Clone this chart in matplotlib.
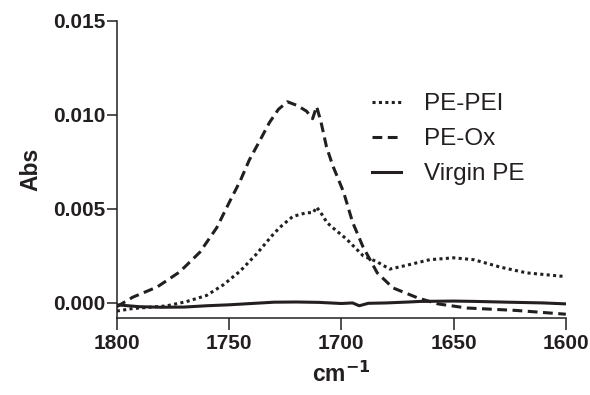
import numpy as np
import matplotlib
matplotlib.use("Agg")
import matplotlib.pyplot as plt

plt.rcParams['font.family'] = ['Liberation Sans', 'DejaVu Sans']

# PE-PEI (dotted)
pei_wn = [1800, 1793, 1778, 1769, 1760, 1752.6, 1745, 1737.8, 1730, 1726.6, 1721.6,
          1715.5, 1712.5, 1711, 1708, 1706.6, 1703.8, 1697.7, 1690.2, 1684.3, 1678.4,
          1671, 1660.6, 1650, 1641, 1629, 1617.5, 1600]
pei_abs = [-0.00043, -0.0003, -0.00016, 0.00007, 0.0004, 0.00096, 0.0017, 0.0026, 0.0037,
           0.0041, 0.0046, 0.0048, 0.0048, 0.0051, 0.0046, 0.0043, 0.0040, 0.0034, 0.0025,
           0.0022, 0.0018, 0.0020, 0.0023, 0.0024, 0.0023, 0.0019, 0.0016, 0.0014]

# PE-Ox (dashed)
ox_wn = [1800, 1793, 1782, 1772, 1763, 1755.5, 1749.7, 1745, 1741, 1736, 1732, 1728, 1724,
         1719.6, 1715.5, 1712.8, 1711, 1709, 1706.6, 1703.8, 1699, 1695, 1690.4, 1684, 1677,
         1666, 1657, 1644, 1622, 1600]
ox_abs = [-0.0002, 0.0003, 0.00085, 0.00165, 0.0027, 0.0040, 0.0054, 0.0065, 0.0076, 0.0087,
          0.0096, 0.0103, 0.0107, 0.0105, 0.0102, 0.0098, 0.01045, 0.0096, 0.0083, 0.0073,
          0.0059, 0.0043, 0.0030, 0.0016, 0.0008, 0.00027, -0.00005, -0.00027, -0.0004, -0.0006]

# Virgin PE (solid)
vpe_wn = [1800, 1790, 1780, 1770, 1760, 1750, 1740, 1730, 1720, 1710, 1700, 1695, 1692,
          1688, 1680, 1670, 1665, 1650, 1640, 1626, 1610, 1600]
vpe_abs = [-0.0001, -0.0002, -0.00023, -0.00022, -0.00015, -0.0001, -0.00003, 0.00004,
           0.00005, 0.00003, -0.00003, 0.0, -0.00015, -0.00002, 0.0, 0.00005, 0.00008,
           0.0001, 0.00008, 0.00004, 0.0, -0.00005]

col = '#231f20'

fig = plt.figure(figsize=(5.9, 3.95), dpi=100)
ax = fig.add_axes([0.198, 0.195, 0.761, 0.752])

ax.plot(pei_wn, pei_abs, color=col, lw=2.2, linestyle=(0, (1.0, 1.1)), label="PE-PEI")
ax.plot(ox_wn, ox_abs, color=col, lw=2.2, linestyle=(0, (3.2, 1.8)), label="PE-Ox")
ax.plot(vpe_wn, vpe_abs, color=col, lw=2.2, label="Virgin PE")

ax.set_xlim(1800, 1600)
ax.set_ylim(-0.0008, 0.015)
ax.set_xticks([1800, 1750, 1700, 1650, 1600])
ax.set_yticks([0.0, 0.005, 0.010, 0.015])
ax.set_yticklabels(["0.000", "0.005", "0.010", "0.015"])

for s in ['top', 'right']:
    ax.spines[s].set_visible(False)
for s in ['left', 'bottom']:
    ax.spines[s].set_linewidth(1.1)
    ax.spines[s].set_color(col)

ax.tick_params(axis='y', length=7, width=1.1, pad=1, color=col)
ax.tick_params(axis='x', length=8.5, width=1.1, pad=3, color=col)
for lab in ax.get_xticklabels() + ax.get_yticklabels():
    lab.set_fontsize(15)
    lab.set_fontweight('bold')
    lab.set_color(col)

ax.set_ylabel("Abs", fontsize=16.5, fontweight='bold', color=col, labelpad=8)
ax.set_xlabel("cm$^{\\mathbf{-1}}$", fontsize=16.5, fontweight='bold', color=col, labelpad=6)

leg = ax.legend(loc='upper left', bbox_to_anchor=(0.52, 0.83), frameon=False,
                fontsize=17.5, handlelength=1.2, handletextpad=0.95, labelspacing=0.53)
for t in leg.get_texts():
    t.set_color(col)

fig.savefig("out.png", dpi=100)
